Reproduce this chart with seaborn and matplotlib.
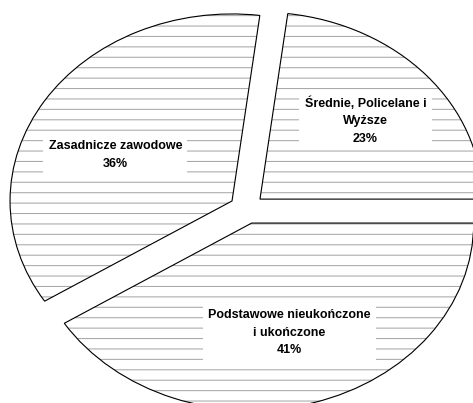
import numpy as np
import matplotlib
matplotlib.use("Agg")
import matplotlib.pyplot as plt
import seaborn as sns

# ---- data ----
categories = ["Średnie, Policelane i\nWyższe", "Zasadnicze zawodowe", "Podstawowe nieukończone\ni ukończone"]
values = [23, 36, 41]

# ---- style ----
sns.set_theme(style="white")
plt.rcParams["font.family"] = ["Liberation Sans", "DejaVu Sans"]
plt.rcParams["hatch.linewidth"] = 0.6

DPI = 125
fig = plt.figure(figsize=(473 / DPI, 403 / DPI), dpi=DPI)
ax = fig.add_axes([0, 0, 1, 1])

explode = [0.079] * len(values)

# hatched fill layer (gray horizontal lines)
wedges_fill, _ = ax.pie(values, startangle=0, counterclock=True, explode=explode,
                        radius=1.0, colors=["white"] * len(values),
                        wedgeprops=dict(edgecolor="#a8a8a8", linewidth=0, hatch="--"))
# outline layer
wedges_edge, _ = ax.pie(values, startangle=0, counterclock=True, explode=explode,
                        radius=1.0,
                        wedgeprops=dict(facecolor="none", edgecolor="black", linewidth=0.65))

ax.set_aspect("auto")
ax.set_xlim(-1.112, 1.019)
ax.set_ylim(-1.038, 1.117)
ax.axis("off")

# label placement (style): radius fraction and angle tweak per slice
label_r = [0.634, 0.58, 0.61]
label_dang = [0.0, 7.4, 0.0]

for w, cat, v, r, da in zip(wedges_fill, categories, values, label_r, label_dang):
    mid = np.deg2rad((w.theta1 + w.theta2) / 2 + da)
    cx, cy = w.center
    x = cx + r * np.cos(mid)
    y = cy + r * np.sin(mid)
    ax.text(x, y, f"{cat}\n{v}%", ha="center", va="center", multialignment="center",
            fontsize=7.2, fontweight="bold", color="black", linespacing=1.6,
            bbox=dict(facecolor="white", edgecolor="none", pad=3))

fig.savefig("out.png", dpi=DPI, facecolor="white")
